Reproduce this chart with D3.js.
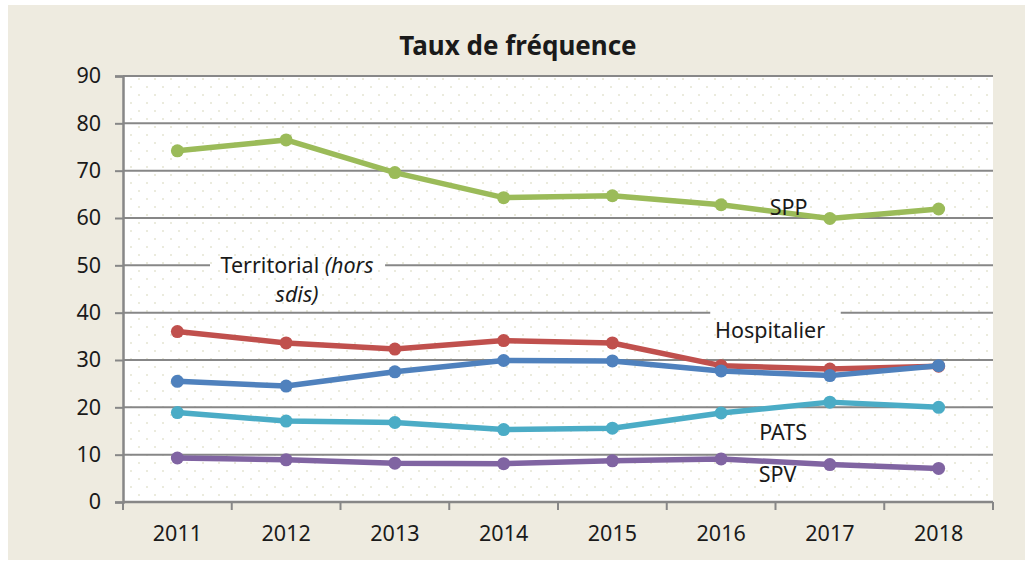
<!DOCTYPE html>
<html>
<head>
<meta charset="utf-8">
<script src="https://cdn.jsdelivr.net/npm/d3@7"></script>
<style>
  body { margin: 0; background: #fff; }
  svg text { font-family: "Noto Sans", sans-serif; fill: #1a1a1a; }
</style>
</head>
<body>
<svg id="chart" width="1025" height="562"></svg>
<script>
// years along the bottom
const years = ["2011", "2012", "2013", "2014", "2015", "2016", "2017", "2018"];
const yTicks = [0, 10, 20, 30, 40, 50, 60, 70, 80, 90];

const spp = [74.2, 76.5, 69.6, 64.3, 64.7, 62.8, 59.9, 61.9];
const territorial = [36.0, 33.6, 32.3, 34.1, 33.6, 28.8, 28.1, 28.7];
const hospitalier = [25.5, 24.5, 27.5, 29.9, 29.8, 27.7, 26.7, 28.8];
const pats = [18.9, 17.1, 16.8, 15.3, 15.6, 18.8, 21.1, 20.0];
const spv = [9.3, 8.9, 8.2, 8.1, 8.7, 9.1, 7.9, 7.1];

const seriesList = [
  { name: "SPP", values: spp, color: "#9BBB59" },
  { name: "Territorial", values: territorial, color: "#C0504D" },
  { name: "Hospitalier", values: hospitalier, color: "#4F81BD" },
  { name: "PATS", values: pats, color: "#4BACC6" },
  { name: "SPV", values: spv, color: "#8064A2" }
];

const svg = d3.select("#chart");
const margin = { left: 123, right: 1025 - 993, top: 76, bottom: 562 - 502 };
const plotW = 1025 - margin.left - margin.right;
const plotH = 562 - margin.top - margin.bottom;
const fontSize = "21.5px";

// beige chart frame
svg.append("rect")
  .attr("x", 8).attr("y", 5)
  .attr("width", 1017).attr("height", 555)
  .attr("fill", "#EEEBE0");

// dotted fill for the plot area
const defs = svg.append("defs");
const pat = defs.append("pattern")
  .attr("id", "dots")
  .attr("patternUnits", "userSpaceOnUse")
  .attr("width", 16).attr("height", 16)
  .attr("x", margin.left + 4).attr("y", margin.top + 6);
pat.append("rect").attr("width", 16).attr("height", 16).attr("fill", "#fff");
pat.append("rect").attr("x", 0).attr("y", 0).attr("width", 2).attr("height", 2).attr("fill", "#EBEBDD");
pat.append("rect").attr("x", 8).attr("y", 8).attr("width", 2).attr("height", 2).attr("fill", "#EBEBDD");

const g = svg.append("g").attr("transform", `translate(${margin.left},${margin.top})`);

g.append("rect")
  .attr("width", plotW).attr("height", plotH)
  .attr("fill", "url(#dots)");

const x = d3.scaleBand().domain(years).range([0, plotW]).padding(0);
const y = d3.scaleLinear().domain([0, 90]).range([plotH, 0]);

// title
svg.append("text")
  .attr("x", 518).attr("y", 55)
  .attr("text-anchor", "middle")
  .style("font-size", "26px")
  .style("font-weight", "bold")
  .text("Taux de fréquence");

// gridlines
g.append("g")
  .selectAll("line")
  .data(yTicks.filter(d => d > 0))
  .join("line")
  .attr("x1", 0).attr("x2", plotW)
  .attr("y1", d => y(d)).attr("y2", d => y(d))
  .attr("stroke", "#878787")
  .attr("stroke-width", 2);

// y axis
const yAxis = g.append("g")
  .call(d3.axisLeft(y).tickValues(yTicks).tickSize(8).tickPadding(14));
yAxis.select(".domain").attr("stroke", "#878787").attr("stroke-width", 2.5);
yAxis.selectAll(".tick line").attr("stroke", "#878787").attr("stroke-width", 2);
yAxis.selectAll(".tick text").style("font-size", fontSize).attr("fill", "#1a1a1a");

// x axis, ticks at the band edges
const xAxis = g.append("g")
  .attr("transform", `translate(0,${plotH})`)
  .call(d3.axisBottom(x).tickSize(0).tickPadding(24));
xAxis.select(".domain").remove();
xAxis.selectAll(".tick text").style("font-size", fontSize).attr("fill", "#1a1a1a");
g.append("line")
  .attr("x1", 0).attr("x2", plotW)
  .attr("y1", plotH).attr("y2", plotH)
  .attr("stroke", "#878787").attr("stroke-width", 2.5);
g.append("g")
  .selectAll("line")
  .data(years.map(d => x(d)).concat([plotW]))
  .join("line")
  .attr("x1", d => d).attr("x2", d => d)
  .attr("y1", plotH).attr("y2", plotH + 8)
  .attr("stroke", "#878787").attr("stroke-width", 2);

// label boxes that hide the gridlines behind them
const labelBoxes = [
  { x0: "2011", off0: 0.8, x1: "2013", off1: 0.41, v0: 52.5, v1: 42.5 },
  { x0: "2016", off0: 0.4, x1: "2017", off1: 0.6, v0: 42, v1: 35 }
];
g.append("g")
  .selectAll("rect")
  .data(labelBoxes)
  .join("rect")
  .attr("x", d => x(d.x0) + d.off0 * x.bandwidth())
  .attr("width", d => (x(d.x1) + d.off1 * x.bandwidth()) - (x(d.x0) + d.off0 * x.bandwidth()))
  .attr("y", d => y(d.v0))
  .attr("height", d => y(d.v1) - y(d.v0))
  .attr("fill", "url(#dots)");

const line = d3.line()
  .x((d, i) => x(years[i]) + x.bandwidth() / 2)
  .y(d => y(d));

const sg = g.selectAll("g.series")
  .data(seriesList)
  .join("g")
  .attr("class", "series");

sg.append("path")
  .attr("d", d => line(d.values))
  .attr("fill", "none")
  .attr("stroke", d => d.color)
  .attr("stroke-width", 5.5)
  .attr("stroke-linejoin", "round");

sg.selectAll("circle")
  .data(d => d.values.map(v => ({ v, color: d.color })))
  .join("circle")
  .attr("cx", (d, i) => x(years[i]) + x.bandwidth() / 2)
  .attr("cy", d => y(d.v))
  .attr("r", 6.5)
  .attr("fill", d => d.color);

// series labels
const labels = [
  { text: "SPP", year: "2017", dx: -0.38, v: 62.3 },
  { text: "Hospitalier", year: "2016", dx: 0.45, v: 36.3 },
  { text: "PATS", year: "2017", dx: -0.43, v: 14.6 },
  { text: "SPV", year: "2017", dx: -0.48, v: 5.8 }
];
g.append("g")
  .selectAll("text")
  .data(labels)
  .join("text")
  .attr("x", d => x(d.year) + x.bandwidth() / 2 + d.dx * x.bandwidth())
  .attr("y", d => y(d.v))
  .attr("text-anchor", "middle")
  .attr("dy", "0.35em")
  .style("font-size", fontSize)
  .text(d => d.text);

const terr = g.append("text")
  .attr("x", x("2012") + x.bandwidth() * 0.6)
  .attr("y", y(50))
  .attr("text-anchor", "middle")
  .attr("dy", "0.35em")
  .style("font-size", fontSize);
terr.append("tspan").text("Territorial ");
terr.append("tspan").style("font-style", "italic").text("(hors");
g.append("text")
  .attr("x", x("2012") + x.bandwidth() * 0.6)
  .attr("y", y(43.9))
  .attr("text-anchor", "middle")
  .attr("dy", "0.35em")
  .style("font-size", fontSize)
  .style("font-style", "italic")
  .text("sdis)");
</script>
</body>
</html>
